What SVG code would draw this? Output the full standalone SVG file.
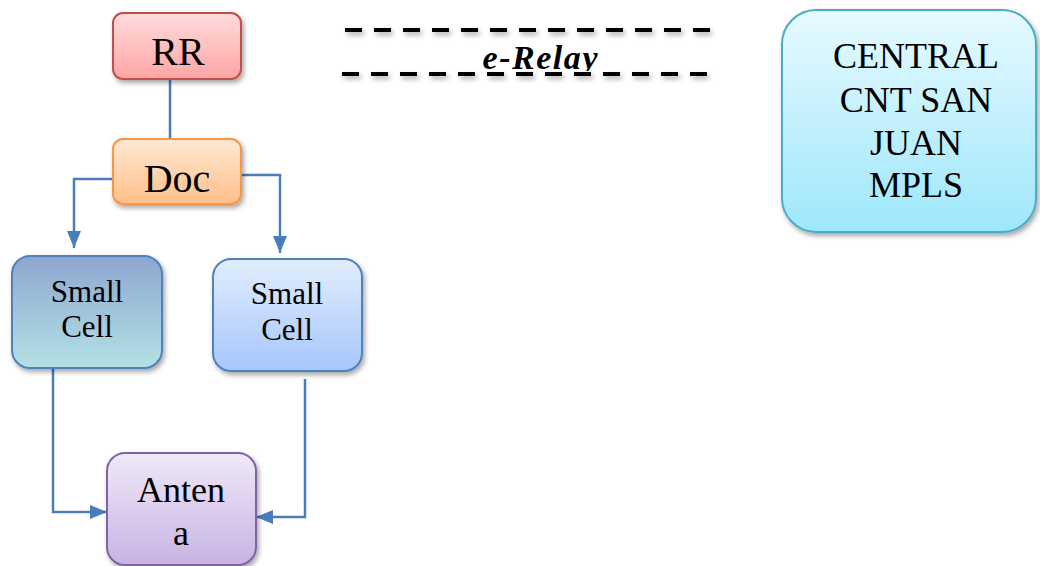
<svg xmlns="http://www.w3.org/2000/svg" width="1040" height="566" viewBox="0 0 1040 566">
<defs>
<style>
.t{font-family:"Liberation Serif","Times New Roman",serif;fill:#000;text-anchor:middle}
.c{fill:none;stroke:#4a7ebb;stroke-width:2.5}
.d{fill:none;stroke:#000;stroke-width:4;stroke-dasharray:17 12}
</style>
<filter id="sh" x="-20%" y="-20%" width="140%" height="150%">
<feDropShadow dx="2" dy="3" stdDeviation="2.5" flood-color="#000" flood-opacity="0.35"/>
</filter>
<linearGradient id="gRR" x1="0" y1="0" x2="0" y2="1"><stop offset="0" stop-color="#ffdcdc"/><stop offset="1" stop-color="#ffa4a4"/></linearGradient>
<linearGradient id="gDoc" x1="0" y1="0" x2="0" y2="1"><stop offset="0" stop-color="#ffe8d4"/><stop offset="1" stop-color="#ffbf88"/></linearGradient>
<linearGradient id="gS1" x1="0" y1="0" x2="0" y2="1"><stop offset="0" stop-color="#8ea6d0"/><stop offset="1" stop-color="#b3e1e5"/></linearGradient>
<linearGradient id="gS2" x1="0" y1="0" x2="0" y2="1"><stop offset="0" stop-color="#e1edfd"/><stop offset="1" stop-color="#a6c6fb"/></linearGradient>
<linearGradient id="gA" x1="0" y1="0" x2="0" y2="1"><stop offset="0" stop-color="#f0e9f8"/><stop offset="1" stop-color="#c8b3e2"/></linearGradient>
<linearGradient id="gC" x1="0" y1="0" x2="0" y2="1"><stop offset="0" stop-color="#e7faff"/><stop offset="1" stop-color="#9ee7fb"/></linearGradient>
<marker id="ar" viewBox="0 0 17 14" refX="17" refY="7" markerWidth="17" markerHeight="14" markerUnits="userSpaceOnUse" orient="auto">
<path d="M0,0 L17,7 L0,14 z" fill="#4a7ebb"/>
</marker>
<clipPath id="clipRelay"><rect x="470" y="30" width="140" height="41"/></clipPath>
</defs>
<rect width="1040" height="566" fill="#fff"/>

<g id="connectors">
<path class="c" d="M170,80 V139"/>
<path class="c" d="M113,179 H74 V248" marker-end="url(#ar)"/>
<path class="c" d="M241,175 H280 V253" marker-end="url(#ar)"/>
<path class="c" d="M53,369 V512 H107" marker-end="url(#ar)"/>
<path class="c" d="M305,379 V517 H256" marker-end="url(#ar)"/>
</g>

<g id="relay">
<g filter="url(#sh)">
<path class="d" d="M345,30 H711"/>
<path class="d" d="M342,74 H708"/>
</g>
<text class="t" x="540" y="69" font-size="34" font-weight="bold" font-style="italic" textLength="115" lengthAdjust="spacing" clip-path="url(#clipRelay)">e-Relay</text>
</g>

<g id="node-rr">
<rect x="113" y="13" width="128" height="66" rx="10" fill="url(#gRR)" stroke="#c0504d" stroke-width="2" filter="url(#sh)"/>
<text class="t" x="178" y="65" font-size="40">RR</text>
</g>

<g id="node-doc">
<rect x="113" y="139" width="128" height="65" rx="10" fill="url(#gDoc)" stroke="#f79646" stroke-width="2" filter="url(#sh)"/>
<text class="t" x="177" y="192" font-size="40">Doc</text>
</g>

<g id="node-smallcell1">
<rect x="12" y="256" width="150" height="112" rx="18" fill="url(#gS1)" stroke="#4f81bd" stroke-width="2" filter="url(#sh)"/>
<text class="t" x="87" y="302" font-size="31">Small</text>
<text class="t" x="87" y="337" font-size="31">Cell</text>
</g>

<g id="node-smallcell2">
<rect x="213" y="259" width="149" height="112" rx="18" fill="url(#gS2)" stroke="#4f81bd" stroke-width="2" filter="url(#sh)"/>
<text class="t" x="287" y="304" font-size="31">Small</text>
<text class="t" x="287" y="340" font-size="31">Cell</text>
</g>

<g id="node-antena">
<rect x="107" y="453" width="149" height="112" rx="18" fill="url(#gA)" stroke="#8064a2" stroke-width="2" filter="url(#sh)"/>
<text class="t" x="181" y="502" font-size="36">Anten</text>
<text class="t" x="181" y="545" font-size="36">a</text>
</g>

<g id="node-central">
<rect x="782" y="10" width="254" height="222" rx="34" fill="url(#gC)" stroke="#4bacc6" stroke-width="2" filter="url(#sh)"/>
<text class="t" x="916" y="68" font-size="36">CENTRAL</text>
<text class="t" x="916" y="112" font-size="36">CNT SAN</text>
<text class="t" x="916" y="155" font-size="36">JUAN</text>
<text class="t" x="916" y="197" font-size="36">MPLS</text>
</g>
</svg>
